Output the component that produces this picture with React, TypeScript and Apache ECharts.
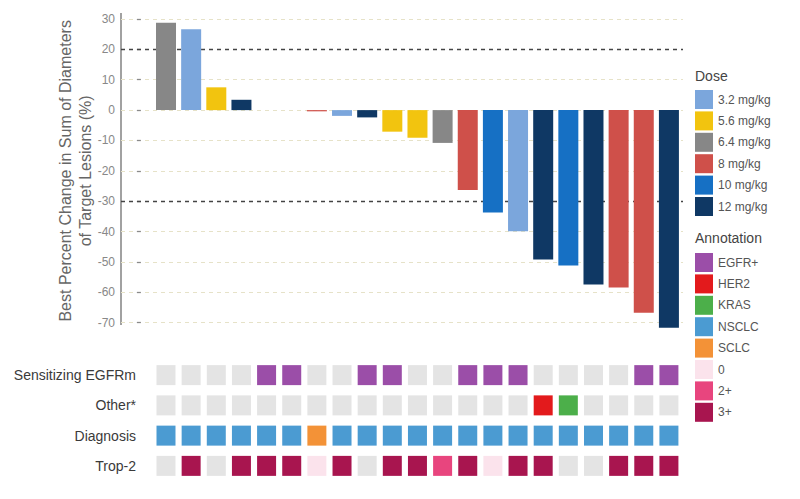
import React, { useEffect, useRef } from "react";
import * as echarts from "echarts";

const PATIENTS = [1, 2, 3, 4, 5, 6, 7, 8, 9, 10, 11, 12, 13, 14, 15, 16, 17, 18, 19, 20, 21];
const BEST_CHANGE = [28.8, 26.6, 7.5, 3.4, 0, 0, -0.4, -1.9, -2.4, -7.1, -9.1, -10.8, -26.3, -33.7, -39.9, -49.2, -51.2, -57.4, -58.4, -66.7, -71.7];
const DOSE = [
  "6.4 mg/kg", "3.2 mg/kg", "5.6 mg/kg", "12 mg/kg", "8 mg/kg", "8 mg/kg", "8 mg/kg",
  "3.2 mg/kg", "12 mg/kg", "5.6 mg/kg", "5.6 mg/kg", "6.4 mg/kg", "8 mg/kg", "10 mg/kg",
  "3.2 mg/kg", "12 mg/kg", "10 mg/kg", "12 mg/kg", "8 mg/kg", "8 mg/kg", "12 mg/kg",
];
const DOSE_LEVELS = ["3.2 mg/kg", "5.6 mg/kg", "6.4 mg/kg", "8 mg/kg", "10 mg/kg", "12 mg/kg"];
const DOSE_COLORS = ["#7ba6dc", "#f2c40f", "#878787", "#cf504a", "#1670c4", "#0f3864"];

const ROW_LABELS = ["Sensitizing EGFRm", "Other*", "Diagnosis", "Trop-2"];
const EGFR_ROW = ["-", "-", "-", "-", "EGFR+", "EGFR+", "-", "-", "EGFR+", "EGFR+", "-", "-", "EGFR+", "EGFR+", "EGFR+", "-", "-", "-", "-", "EGFR+", "EGFR+"];
const OTHER_ROW = ["-", "-", "-", "-", "-", "-", "-", "-", "-", "-", "-", "-", "-", "-", "-", "HER2", "KRAS", "-", "-", "-", "-"];
const DIAGNOSIS_ROW = ["NSCLC", "NSCLC", "NSCLC", "NSCLC", "NSCLC", "NSCLC", "SCLC", "NSCLC", "NSCLC", "NSCLC", "NSCLC", "NSCLC", "NSCLC", "NSCLC", "NSCLC", "NSCLC", "NSCLC", "NSCLC", "NSCLC", "NSCLC", "NSCLC"];
const TROP2_ROW = ["-", "3+", "-", "3+", "3+", "3+", "0", "3+", "-", "3+", "3+", "2+", "3+", "0", "3+", "3+", "-", "-", "3+", "3+", "3+"];
const ANNOTATION_LEVELS = ["EGFR+", "HER2", "KRAS", "NSCLC", "SCLC", "0", "2+", "3+"];
const ANNOTATION_COLORS = ["#9b4ea8", "#e31a1c", "#4caf4a", "#4b9bd2", "#f39237", "#fbe3ec", "#e8457e", "#a8154f"];
const NONE_COLOR = "#e4e4e4";

const REF_LINES = [20, -30];

const FONT = "'Liberation Sans', Arial, sans-serif";

export default function App() {
  const ref = useRef<HTMLDivElement>(null);

  useEffect(() => {
    if (!ref.current) return;
    const chart = echarts.init(ref.current, undefined, { renderer: "svg" });

    const rows = [EGFR_ROW, OTHER_ROW, DIAGNOSIS_ROW, TROP2_ROW];

    const doseSeries = DOSE_LEVELS.map((d, k) => ({
      name: d,
      type: "bar",
      xAxisIndex: 0,
      yAxisIndex: 0,
      barWidth: 20,
      barGap: "-100%",
      clip: false,
      z: 3,
      itemStyle: { color: DOSE_COLORS[k], opacity: 1 },
      data: PATIENTS.filter((_, i) => DOSE[i] === d).map((p) => [p, BEST_CHANGE[PATIENTS.indexOf(p)]]),
    }));

    const cellData = (level: string) => {
      const out: any[] = [];
      rows.forEach((row, r) => {
        row.forEach((v, i) => {
          if (v === level) out.push([PATIENTS[i], ROW_LABELS[r]]);
        });
      });
      return out;
    };

    const annotSeries = ANNOTATION_LEVELS.map((a, k) => ({
      name: a,
      type: "scatter",
      xAxisIndex: 1,
      yAxisIndex: 1,
      symbol: "rect",
      symbolSize: [19, 20],
      itemStyle: { color: ANNOTATION_COLORS[k], opacity: 1 },
      data: cellData(a),
    }));

    const noneSeries = {
      name: "none",
      type: "scatter",
      xAxisIndex: 1,
      yAxisIndex: 1,
      symbol: "rect",
      symbolSize: [19, 20],
      itemStyle: { color: NONE_COLOR, opacity: 1 },
      data: cellData("-"),
    };

    const refSeries = {
      name: "ref",
      type: "line",
      xAxisIndex: 0,
      yAxisIndex: 0,
      data: [],
      z: 1,
      markLine: {
        silent: true,
        symbol: "none",
        z: 1,
        label: { show: false },
        lineStyle: { color: "#444", type: [4, 4], width: 1.3 },
        data: REF_LINES.map((v) => ({ yAxis: v })),
      },
    };

    const legendText = { color: "#555", fontSize: 12, fontFamily: FONT };

    chart.setOption({
      animation: false,
      textStyle: { fontFamily: FONT },
      grid: [
        { left: 121, right: 117, top: 19, height: 303.7 },
        { left: 145, right: 117, top: 360, height: 121 },
      ],
      xAxis: [
        { type: "value", gridIndex: 0, min: -0.79, max: 21.56, show: false },
        { type: "value", gridIndex: 1, min: 0.165, max: 21.56, show: false },
      ],
      yAxis: [
        {
          type: "value",
          gridIndex: 0,
          min: -70,
          max: 30,
          interval: 10,
          axisLine: { show: false },
          axisTick: { show: true, length: 4, lineStyle: { color: "#8a8a8a", width: 1.3 } },
          axisLabel: { color: "#888", fontSize: 12, margin: 6, fontFamily: FONT },
          splitLine: { show: true, lineStyle: { color: "#e6e2c8", type: [4, 4], width: 1 } },
          name: "Best Percent Change in Sum of Diameters\nof Target Lesions (%)",
          nameLocation: "middle",
          nameGap: 26,
          nameMoveOverlap: false,
          nameTextStyle: { color: "#666", fontSize: 16, lineHeight: 20, fontFamily: FONT },
        },
        {
          type: "category",
          gridIndex: 1,
          inverse: true,
          data: ROW_LABELS,
          axisLine: { show: false },
          axisTick: { show: false },
          splitLine: { show: false },
          axisLabel: { color: "#3a3a3a", fontSize: 14, margin: 9, fontFamily: FONT },
        },
      ],
      legend: [
        {
          orient: "vertical",
          left: 695,
          top: 90,
          itemWidth: 18,
          itemHeight: 19,
          itemGap: 2.4,
          icon: "rect",
          padding: 0,
          textStyle: legendText,
          data: DOSE_LEVELS,
        },
        {
          orient: "vertical",
          left: 695,
          top: 253,
          itemWidth: 18,
          itemHeight: 19,
          itemGap: 2.4,
          icon: "rect",
          padding: 0,
          textStyle: legendText,
          data: ANNOTATION_LEVELS,
        },
      ],
      graphic: [
        {
          type: "line",
          shape: { x1: 121, y1: 13, x2: 121, y2: 325 },
          style: { stroke: "#8a8a8a", lineWidth: 1.6 },
          silent: true,
        },
        {
          type: "text",
          left: 695,
          top: 69,
          style: { text: "Dose", fill: "#444", fontSize: 14, fontFamily: FONT },
        },
        {
          type: "text",
          left: 695,
          top: 231,
          style: { text: "Annotation", fill: "#444", fontSize: 14, fontFamily: FONT },
        },
      ],
      series: [refSeries, ...doseSeries, noneSeries, ...annotSeries],
    });

    return () => chart.dispose();
  }, []);

  return (
    <div
      ref={ref}
      style={{ position: "fixed", left: 0, top: 0, width: 800, height: 499, background: "#fff" }}
    />
  );
}
